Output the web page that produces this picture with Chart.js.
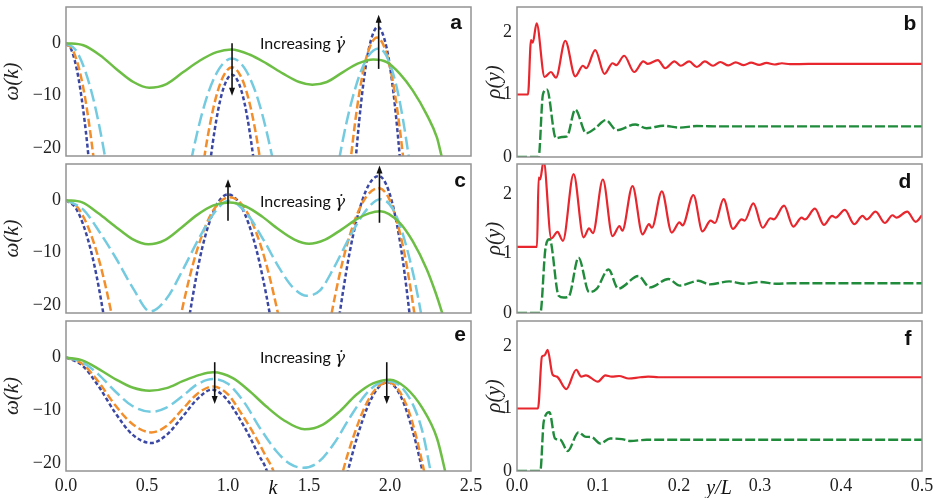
<!DOCTYPE html>
<html>
<head>
<meta charset="utf-8">
<script src="https://cdn.jsdelivr.net/npm/chart.js@4.4.1/dist/chart.umd.min.js"></script>
<style>
  body { margin: 0; background: #fff; width: 936px; height: 498px; overflow: hidden; position: relative; }
  canvas { position: absolute; }
  .txt { position: absolute; white-space: nowrap; color: #111; transform: translate(-50%, -50%); }
  .tag { font: bold 21px 'Liberation Sans', Arial, sans-serif; }
  .inc { font: 16px Lato, 'Open Sans', sans-serif; transform: translate(0, -50%); }
  .inc i { font: italic 17px 'DejaVu Serif', serif; }
  .ax { font: italic 20px 'Liberation Serif', serif; }
</style>
</head>
<body>
<canvas id="pa" width="487" height="164" style="left:0;top:2px"></canvas>
<canvas id="pc" width="487" height="164" style="left:0;top:159px"></canvas>
<canvas id="pe" width="487" height="185" style="left:0;top:316px"></canvas>
<canvas id="pb" width="468" height="165" style="left:470px;top:2px"></canvas>
<canvas id="pd" width="468" height="164" style="left:470px;top:159px"></canvas>
<canvas id="pf" width="468" height="185" style="left:470px;top:316px"></canvas>

<div class="txt inc" style="left:260px;top:43px">Increasing <i>γ̇</i></div>
<div class="txt inc" style="left:260px;top:201px">Increasing <i>γ̇</i></div>
<div class="txt inc" style="left:260px;top:357px">Increasing <i>γ̇</i></div>
<div class="txt tag" style="left:456px;top:22px">a</div>
<div class="txt tag" style="left:910px;top:23px">b</div>
<div class="txt tag" style="left:460px;top:180px">c</div>
<div class="txt tag" style="left:905px;top:181px">d</div>
<div class="txt tag" style="left:460px;top:334px">e</div>
<div class="txt tag" style="left:908px;top:338px">f</div>
<div class="txt ax" style="left:273px;top:487px">k</div>
<div class="txt ax" style="left:719px;top:487px">y/L</div>

<script>
// axis ticks
const kTicks = [0, 0.5, 1, 1.5, 2, 2.5];
const omegaTicks = [-20, -10, 0];
const yLTicks = [0, 0.1, 0.2, 0.3, 0.4, 0.5];
const rhoTicks = [0, 1, 2];

// panel a : omega(k)
const aGreenK = [0, 0.107, 0.21, 0.31, 0.416, 0.514, 0.62, 0.724, 0.827, 0.93, 1.02, 1.136, 1.239, 1.34, 1.44, 1.52, 1.61, 1.71, 1.80, 1.897, 1.98, 2.06, 2.14, 2.23, 2.29, 2.32, 2.40];
const aGreenW = [0, -0.4, -2.3, -4.9, -7.4, -8.5, -7.8, -5.5, -3.3, -1.7, -1.2, -2.2, -3.9, -5.8, -7.4, -7.9, -7.4, -5.5, -3.9, -3.1, -3.6, -5.8, -9.0, -13.8, -18.0, -21.7, -30];
const aCyanK = [0, 0.06, 0.12, 0.18, 0.24, 0.30, 0.715, 0.778, 0.865, 0.945, 1.025, 1.105, 1.185, 1.272, 1.335, 1.64, 1.69, 1.77, 1.85, 1.93, 1.99, 2.05, 2.115, 2.16];
const aCyanW = [0, -1.3, -5.4, -12.1, -21.5, -33.6, -32, -21.5, -10.7, -4.9, -2.9, -4.9, -10.7, -21.5, -32, -31.4, -21.5, -10.3, -3.3, -1.0, -3.2, -9.6, -21.5, -32.7];
const aOrangeK = [0, 0.04, 0.08, 0.12, 0.17, 0.21, 0.805, 0.855, 0.91, 0.965, 1.025, 1.085, 1.14, 1.195, 1.245, 1.71, 1.76, 1.81, 1.86, 1.92, 1.98, 2.03, 2.08, 2.13];
const aOrangeW = [0, -1.2, -4.8, -10.8, -21.8, -33, -33, -21.5, -12.3, -6.7, -4.6, -6.7, -12.3, -21.5, -33, -38, -21.5, -9.6, -2.1, 1.1, -2.1, -9.6, -21.5, -38];
const aNavyK = [0, 0.035, 0.07, 0.105, 0.14, 0.175, 0.855, 0.895, 0.94, 0.98, 1.025, 1.07, 1.11, 1.155, 1.195, 1.75, 1.79, 1.83, 1.87, 1.925, 1.98, 2.02, 2.06, 2.10];
const aNavyW = [0, -1.4, -5.5, -12.4, -22, -35, -32.5, -21.5, -12.6, -7.9, -6.0, -7.9, -12.6, -21.5, -32.5, -38, -21.5, -9.1, -1.0, 3.1, -1.0, -9.1, -21.5, -38];
const aArrows = [[1.025, 0.0, -10.0], [1.93, -4.9, 5.4]];

// panel c
const cGreenK = [0, 0.1, 0.2, 0.3, 0.41, 0.508, 0.61, 0.71, 0.81, 0.91, 1.01, 1.11, 1.21, 1.31, 1.41, 1.50, 1.60, 1.70, 1.80, 1.87, 1.94, 2.06, 2.14, 2.226, 2.28, 2.32, 2.40];
const cGreenW = [0, -0.4, -2.5, -4.9, -7.4, -8.4, -7.6, -5.3, -2.8, -1.0, -0.44, -1.2, -3.1, -5.5, -7.5, -8.3, -7.5, -5.6, -3.5, -2.5, -2.1, -4.3, -7.8, -13.1, -17.5, -21.3, -30];
const cCyanK = [0, 0.107, 0.21, 0.313, 0.416, 0.52, 0.62, 0.724, 0.827, 0.93, 1.005, 1.115, 1.218, 1.32, 1.40, 1.486, 1.568, 1.65, 1.753, 1.856, 1.94, 2.02, 2.10, 2.19, 2.24];
const cCyanW = [0, -1.8, -6.2, -11.3, -16.9, -21.2, -18.8, -13.1, -6.9, -1.8, -0.1, -2.5, -7.5, -13.1, -16.6, -18.2, -17.2, -13.1, -6.9, -1.8, 0.2, -1.8, -8.7, -21.3, -32];
const cOrangeK = [0, 0.07, 0.14, 0.21, 0.28, 0.34, 0.65, 0.712, 0.81, 0.91, 1.01, 1.11, 1.21, 1.308, 1.37, 1.58, 1.64, 1.73, 1.83, 1.93, 2.0, 2.08, 2.15, 2.2];
const cOrangeW = [0, -1.3, -5.4, -12.1, -21.5, -31.7, -31.6, -21.5, -9.4, -1.9, 0.57, -1.9, -9.4, -21.5, -31.6, -32.4, -21.5, -9.0, -0.5, 2.3, -0.1, -8.8, -21.5, -33.5];
const cNavyK = [0, 0.06, 0.12, 0.175, 0.23, 0.28, 0.71, 0.765, 0.84, 0.92, 1.0, 1.085, 1.17, 1.257, 1.31, 1.64, 1.69, 1.77, 1.85, 1.93, 1.995, 2.06, 2.12, 2.17];
const cNavyW = [0, -1.5, -5.9, -12.4, -21.5, -31.9, -32.7, -21.5, -9.2, -1.5, 1.1, -1.4, -8.8, -21.5, -31.8, -33.5, -21.5, -7.0, 1.7, 4.6, 1.5, -7.6, -21.5, -37];
const cArrows = [[1.0, -3.9, 4.0], [1.935, -4.3, 6.6]];

// panel e
const eGreenK = [0, 0.105, 0.208, 0.31, 0.41, 0.516, 0.62, 0.72, 0.825, 0.907, 1.03, 1.134, 1.237, 1.34, 1.473, 1.586, 1.69, 1.79, 1.895, 2.0, 2.1, 2.2, 2.29, 2.34, 2.4];
const eGreenW = [0, -0.6, -2.3, -4.2, -5.7, -6.3, -5.8, -4.5, -3.3, -2.8, -3.9, -6.4, -9.3, -11.8, -13.6, -12.7, -10.2, -7.1, -4.9, -4.2, -5.8, -9.6, -15.3, -21.5, -30];
const eCyanK = [0, 0.1, 0.2, 0.3, 0.41, 0.527, 0.62, 0.72, 0.81, 0.907, 1.0, 1.1, 1.2, 1.3, 1.38, 1.463, 1.55, 1.65, 1.75, 1.85, 1.93, 2.0, 2.07, 2.15, 2.2, 2.25, 2.3];
const eCyanW = [0, -0.9, -3.2, -6.3, -9.2, -10.3, -9.5, -7.3, -5.1, -4.1, -5.0, -8.5, -13.5, -17.8, -20.1, -20.9, -20.0, -16.5, -11.5, -7.0, -4.9, -4.5, -5.6, -9.5, -14, -21.5, -30];
const eOrangeK = [0, 0.1, 0.2, 0.3, 0.41, 0.527, 0.62, 0.72, 0.81, 0.907, 1.0, 1.08, 1.16, 1.23, 1.28, 1.34, 1.65, 1.71, 1.78, 1.85, 1.92, 1.99, 2.06, 2.13, 2.21, 2.26];
const eOrangeW = [0, -1.2, -4.6, -8.9, -12.6, -14.2, -13.0, -9.8, -6.9, -5.5, -7.0, -10.5, -14.5, -18.5, -21.5, -28, -30, -21.5, -14.5, -9.0, -5.7, -4.7, -6.5, -11.5, -21.5, -30];
const eNavyK = [0, 0.1, 0.2, 0.3, 0.41, 0.527, 0.62, 0.72, 0.81, 0.9, 0.98, 1.06, 1.13, 1.19, 1.24, 1.30, 1.68, 1.74, 1.80, 1.86, 1.92, 1.985, 2.05, 2.12, 2.20, 2.25];
const eNavyW = [0, -1.5, -5.4, -10.3, -14.6, -16.2, -14.7, -11.2, -7.9, -6.1, -7.5, -11.0, -14.8, -18.5, -21.5, -29, -29, -21.5, -14.8, -9.5, -6.0, -4.7, -6.4, -11.8, -21.5, -30];
const eArrows = [[0.918, -0.9, -8.8], [1.98, -0.9, -8.8]];

// panel b : rho(y)
const bRedX = [0, 0.0136, 0.0173, 0.0195, 0.0242, 0.0341, 0.0419, 0.0481, 0.0596, 0.0719, 0.0814, 0.0855, 0.0966, 0.108, 0.118, 0.1225, 0.1323, 0.1447, 0.156, 0.1615, 0.1739, 0.183, 0.1944, 0.2022, 0.2125, 0.222, 0.232, 0.242, 0.251, 0.261, 0.270, 0.280, 0.289, 0.299, 0.308, 0.318, 0.327, 0.337, 0.36, 0.5];
const bRedY = [1.0, 1.0, 1.87, 1.83, 2.14, 1.28, 1.36, 1.27, 1.86, 1.29, 1.46, 1.42, 1.71, 1.33, 1.50, 1.47, 1.62, 1.36, 1.53, 1.49, 1.55, 1.42, 1.53, 1.46, 1.53, 1.44, 1.53, 1.46, 1.52, 1.465, 1.515, 1.47, 1.51, 1.475, 1.505, 1.48, 1.50, 1.485, 1.49, 1.49];
const bGreenX = [0, 0.0267, 0.032, 0.037, 0.048, 0.0555, 0.0617, 0.0719, 0.0855, 0.0966, 0.1097, 0.123, 0.146, 0.160, 0.181, 0.200, 0.222, 0.25, 0.5];
const bGreenY = [0, 0, 1.0, 1.08, 0.30, 0.32, 0.33, 0.76, 0.38, 0.46, 0.59, 0.43, 0.52, 0.46, 0.50, 0.47, 0.495, 0.49, 0.49];

// panel d
const dRedX = [0, 0.0247, 0.0267, 0.0285, 0.0329, 0.0423, 0.050, 0.0567, 0.0699, 0.0822, 0.089, 0.0937, 0.106, 0.118, 0.1266, 0.130, 0.1426, 0.155, 0.163, 0.1665, 0.1788, 0.191, 0.2006, 0.2043, 0.2178, 0.229, 0.239, 0.2445, 0.255, 0.2665, 0.2774, 0.281, 0.2918, 0.3033, 0.313, 0.317, 0.3297, 0.3411, 0.3514, 0.3555, 0.3678, 0.3789, 0.3891, 0.3933, 0.4048, 0.4163, 0.4266, 0.4316, 0.4427, 0.4541, 0.4636, 0.4685, 0.4817, 0.4923, 0.5];
const dRedY = [1.11, 1.11, 2.27, 2.24, 2.55, 1.25, 1.36, 1.21, 2.33, 1.27, 1.42, 1.34, 2.24, 1.29, 1.46, 1.38, 2.13, 1.32, 1.49, 1.43, 2.04, 1.35, 1.52, 1.47, 1.98, 1.37, 1.55, 1.51, 1.91, 1.41, 1.57, 1.55, 1.84, 1.43, 1.59, 1.57, 1.80, 1.45, 1.60, 1.57, 1.75, 1.48, 1.63, 1.60, 1.73, 1.49, 1.63, 1.57, 1.70, 1.51, 1.64, 1.60, 1.70, 1.53, 1.64];
const dGreenX = [0, 0.0288, 0.035, 0.0403, 0.0514, 0.0575, 0.064, 0.076, 0.089, 0.0986, 0.113, 0.125, 0.150, 0.164, 0.187, 0.201, 0.224, 0.238, 0.262, 0.28, 0.30, 0.32, 0.34, 0.5];
const dGreenY = [0, 0, 1.07, 1.24, 0.29, 0.26, 0.28, 0.93, 0.35, 0.41, 0.73, 0.41, 0.62, 0.43, 0.57, 0.46, 0.54, 0.48, 0.53, 0.49, 0.52, 0.49, 0.50, 0.50];

// panel f
const fRedX = [0, 0.0259, 0.0308, 0.034, 0.0378, 0.044, 0.0493, 0.0608, 0.0732, 0.0793, 0.085, 0.0999, 0.109, 0.117, 0.126, 0.138, 0.152, 0.162, 0.175, 0.2, 0.5];
const fRedY = [1.0, 1.0, 1.83, 1.85, 1.94, 1.54, 1.51, 1.31, 1.62, 1.51, 1.53, 1.43, 1.53, 1.51, 1.52, 1.48, 1.50, 1.51, 1.50, 1.50, 1.50];
const fGreenX = [0, 0.0288, 0.033, 0.040, 0.047, 0.0534, 0.0625, 0.076, 0.084, 0.0925, 0.1028, 0.115, 0.1295, 0.14, 0.16, 0.5];
const fGreenY = [0, 0, 0.79, 0.94, 0.52, 0.50, 0.32, 0.62, 0.55, 0.54, 0.44, 0.52, 0.51, 0.48, 0.50, 0.50];

const GREEN = '#6dbe45', CYAN = '#74cbe0', ORANGE = '#f28f2c', NAVY = '#3a48a4';
const RED = '#e8262d', DKGREEN = '#1f8b3b';
const SERIF = '"Liberation Serif", "DejaVu Serif", serif';
const TICK_FONT = { family: SERIF, size: 18, style: 'normal', weight: 'normal' };

Chart.defaults.font.family = SERIF;

function pts(xs, ys) {
  return xs.map((x, i) => ({ x: x, y: ys[i] }));
}

function line(xs, ys, color, width, dash) {
  return {
    data: pts(xs, ys), borderColor: color, borderWidth: width, borderDash: dash || [],
    pointRadius: 0, fill: false, cubicInterpolationMode: 'monotone', clip: 0
  };
}

// frame around the plot area
const frame = {
  id: 'frame',
  afterDatasetsDraw(chart) {
    const a = chart.chartArea, c = chart.ctx;
    c.save();
    c.strokeStyle = '#939393';
    c.lineWidth = 1.5;
    c.strokeRect(a.left, a.top, a.right - a.left, a.bottom - a.top);
    c.restore();
  }
};

// vertical arrows in data coordinates
const arrows = {
  id: 'arrows',
  afterDatasetsDraw(chart, args, opts) {
    if (!opts || !opts.list) return;
    const xs = chart.scales.x, ys = chart.scales.y, c = chart.ctx;
    c.save();
    c.strokeStyle = '#111';
    c.fillStyle = '#111';
    c.lineWidth = 1.6;
    opts.list.forEach(([k, from, to]) => {
      const x = xs.getPixelForValue(k);
      const y0 = ys.getPixelForValue(from), y1 = ys.getPixelForValue(to);
      const dir = y1 > y0 ? 1 : -1;
      c.beginPath();
      c.moveTo(x, y0);
      c.lineTo(x, y1 - dir * 6);
      c.stroke();
      c.beginPath();
      c.moveTo(x, y1);
      c.lineTo(x - 3, y1 - dir * 8);
      c.lineTo(x + 3, y1 - dir * 8);
      c.closePath();
      c.fill();
    });
    c.restore();
  }
};

function makeChart(id, datasets, o) {
  new Chart(document.getElementById(id), {
    type: 'line',
    data: { datasets: datasets },
    plugins: [frame, arrows],
    options: {
      responsive: false,
      animation: false,
      devicePixelRatio: 1,
      layout: { padding: { left: 0, right: 16, top: 5, bottom: 0 } },
      plugins: { legend: { display: false }, tooltip: { enabled: false }, arrows: { list: o.arrows } },
      scales: {
        x: {
          type: 'linear', min: o.xMin, max: o.xMax,
          afterBuildTicks: s => { s.ticks = o.xTicks.map(v => ({ value: v })); },
          afterFit: s => { s.height = o.showX ? 30 : 10; s.paddingLeft = 0; s.paddingRight = 0; },
          grid: { display: false, drawTicks: false },
          border: { display: false },
          ticks: {
            display: o.showX, padding: 4, color: '#222', font: TICK_FONT,
            autoSkip: false, maxRotation: 0, callback: v => Number(v).toFixed(1)
          }
        },
        y: {
          min: o.yMin, max: o.yMax,
          afterBuildTicks: s => { s.ticks = o.yTicks.map(v => ({ value: v })); },
          afterFit: s => { s.width = o.yWidth; s.paddingTop = 0; s.paddingBottom = 0; },
          grid: { display: false, drawTicks: false },
          border: { display: false },
          title: {
            display: true, text: o.yTitle, color: '#222',
            font: { family: SERIF, size: 21, style: 'italic' },
            padding: { top: o.titlePad, bottom: 0 }
          },
          ticks: {
            padding: 5, color: '#222', font: TICK_FONT,
            callback: v => String(v).replace('-', '\u2212')
          }
        }
      }
    }
  });
}

function leftPanel(id, g, cy, or, nv, arr, showX) {
  makeChart(id, [
    line(g[0], g[1], GREEN, 2.5),
    line(cy[0], cy[1], CYAN, 2.5, [13, 5]),
    line(or[0], or[1], ORANGE, 2.5, [8, 3.5]),
    line(nv[0], nv[1], NAVY, 2.5, [4, 2.5])
  ], {
    xMin: 0, xMax: 2.5, xTicks: kTicks, yMin: -21.5, yMax: 6.9, yTicks: omegaTicks,
    yWidth: 66, yTitle: 'ω(k)', titlePad: 0, arrows: arr, showX: showX
  });
}

function rightPanel(id, red, grn, yMax, showX) {
  makeChart(id, [
    line(red[0], red[1], RED, 2.2),
    line(grn[0], grn[1], DKGREEN, 2.4, [10, 3])
  ], {
    xMin: 0, xMax: 0.5, xTicks: yLTicks, yMin: 0, yMax: yMax, yTicks: rhoTicks,
    yWidth: 47, yTitle: 'ρ(y)', titlePad: 12, arrows: null, showX: showX
  });
}

leftPanel('pa', [aGreenK, aGreenW], [aCyanK, aCyanW], [aOrangeK, aOrangeW], [aNavyK, aNavyW], aArrows, false);
leftPanel('pc', [cGreenK, cGreenW], [cCyanK, cCyanW], [cOrangeK, cOrangeW], [cNavyK, cNavyW], cArrows, false);
leftPanel('pe', [eGreenK, eGreenW], [eCyanK, eCyanW], [eOrangeK, eOrangeW], [eNavyK, eNavyW], eArrows, true);
rightPanel('pb', [bRedX, bRedY], [bGreenX, bGreenY], 2.4, false);
rightPanel('pd', [dRedX, dRedY], [dGreenX, dGreenY], 2.5, false);
rightPanel('pf', [fRedX, fRedY], [fGreenX, fGreenY], 2.4, true);
</script>
</body>
</html>
